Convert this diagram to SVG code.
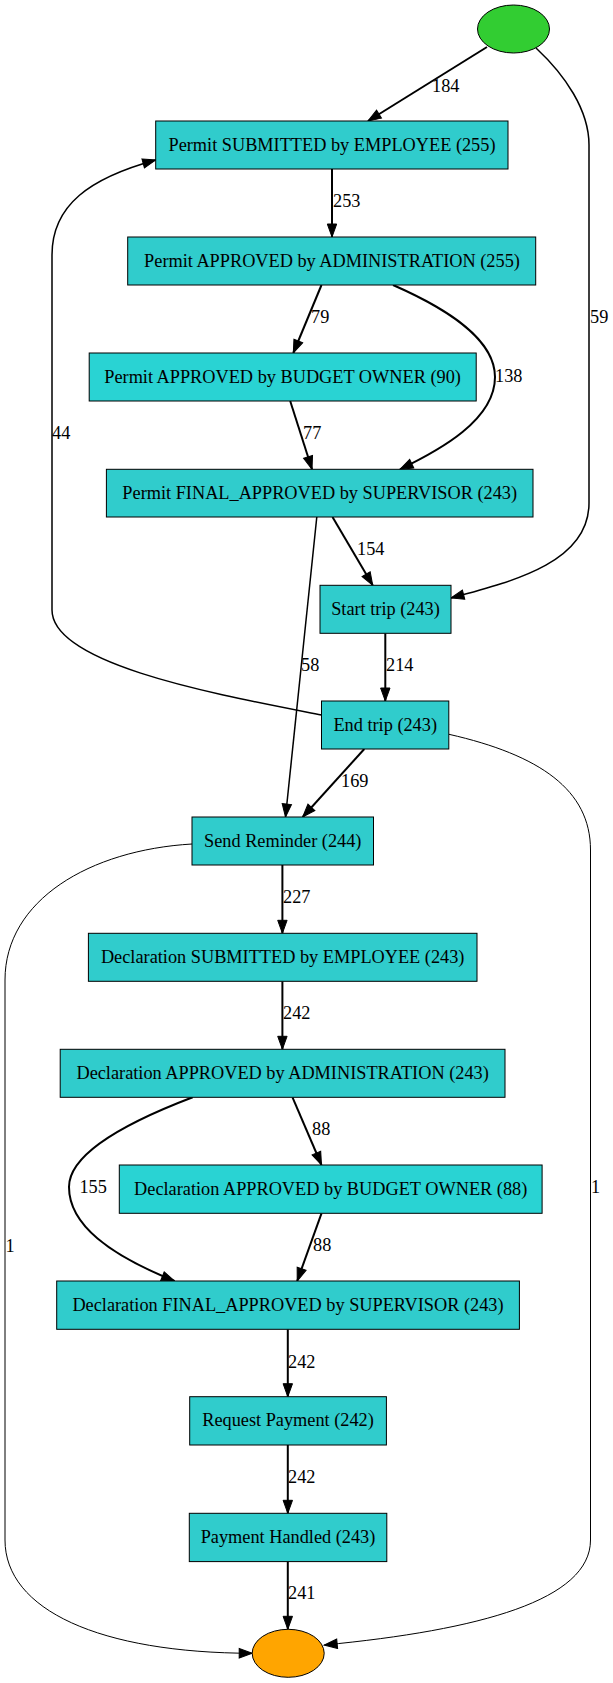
<svg xmlns="http://www.w3.org/2000/svg" width="613" height="1683" viewBox="0 0 613 1683">
<style>
.box{fill:#30CCCC;stroke:#000;stroke-width:1}
.box2{fill:#29D3D3;stroke:#000;stroke-width:1}
.t{font-family:"Liberation Serif","Times New Roman",serif;font-size:18.3px;fill:#000;text-anchor:middle}
.l{font-family:"Liberation Serif","Times New Roman",serif;font-size:18.3px;fill:#000;text-anchor:start}
.e{fill:none;stroke:#000;stroke-width:2;marker-end:url(#arr)}
.m{fill:none;stroke:#000;stroke-width:1.5;marker-end:url(#arr)}
.s{fill:none;stroke:#000;stroke-width:1;marker-end:url(#arr)}
</style>
<defs>
<marker id="arr" markerUnits="userSpaceOnUse" markerWidth="14" markerHeight="10" refX="13" refY="4.7" orient="auto" overflow="visible">
<path d="M0,0 L13,4.7 L0,9.4 z" fill="#000" stroke="#000" stroke-width="1"/>
</marker>
</defs>
<rect width="613" height="1683" fill="#fff"/>
<g id="edges">
<path class="e" d="M487,47 L368,121"/>
<path class="m" d="M536,48 C565,75 589,110 589,145 L589,503 C589,560 520,580 451,598"/>
<path class="e" d="M332,169 L332,237"/>
<path class="e" d="M321.5,285 L293.3,353"/>
<path class="e" d="M393,285 C450,310 495,340 495,377 C495,420 440,450 400,469.3"/>
<path class="e" d="M290.2,401 L312,469.3"/>
<path class="e" d="M332.5,517 L372.7,585.3"/>
<path class="m" d="M316.8,517 L285.5,817"/>
<path class="e" d="M385.3,633.3 L385.3,701"/>
<path class="m" d="M321.5,715 C220,695 52,665 52,610 L52,255 C52,205 90,178 155.7,160"/>
<path class="e" d="M364.3,749 L302.7,817"/>
<path class="s" d="M449,734.3 C540,755 590.5,790 590.5,850 L590.5,1540 C590.5,1600 480,1630 324.2,1645"/>
<path class="s" d="M192,844 C90,850 5,900 5,980 L5,1540 C5,1610 100,1653 252.2,1653.3"/>
<path class="e" d="M282.4,865 L282.4,933.3"/>
<path class="e" d="M282.4,981.3 L282.4,1049.3"/>
<path class="e" d="M292.5,1097.3 L321.5,1165"/>
<path class="e" d="M192.7,1097.3 C120,1125 69,1155 69,1187 C69,1225 110,1255 174.5,1281"/>
<path class="e" d="M321.5,1213.3 L297.2,1281"/>
<path class="e" d="M287.8,1329.3 L287.8,1396.7"/>
<path class="e" d="M287.8,1445 L287.8,1513.3"/>
<path class="e" d="M287.8,1561.7 L287.8,1629.3"/>
<text class="l" x="432" y="92">184</text>
<text class="l" x="590" y="323">59</text>
<text class="l" x="333" y="207">253</text>
<text class="l" x="311" y="323">79</text>
<text class="l" x="495" y="382">138</text>
<text class="l" x="303" y="439">77</text>
<text class="l" x="357" y="555">154</text>
<text class="l" x="301" y="671">58</text>
<text class="l" x="386" y="671">214</text>
<text class="l" x="52" y="439">44</text>
<text class="l" x="341" y="787">169</text>
<text class="l" x="591" y="1193">1</text>
<text class="l" x="5.5" y="1252">1</text>
<text class="l" x="283" y="903">227</text>
<text class="l" x="283" y="1019">242</text>
<text class="l" x="312" y="1135">88</text>
<text class="l" x="79.4" y="1193">155</text>
<text class="l" x="313" y="1251">88</text>
<text class="l" x="288" y="1368">242</text>
<text class="l" x="288" y="1483">242</text>
<text class="l" x="288" y="1599">241</text>
</g>
<g id="start"><ellipse cx="513.5" cy="29" rx="36" ry="24" fill="#32CD32" stroke="#000" stroke-width="1"/></g>
<g id="n1"><rect class="box" x="155.7" y="121" width="352.3" height="48"/><text class="t" x="332" y="150.5">Permit SUBMITTED by EMPLOYEE (255)</text></g>
<g id="n2"><rect class="box" x="127.7" y="237" width="408" height="48"/><text class="t" x="332" y="266.5">Permit APPROVED by ADMINISTRATION (255)</text></g>
<g id="n3"><rect class="box2" x="89.2" y="353" width="387" height="48"/><text class="t" x="282.6" y="382.5">Permit APPROVED by BUDGET OWNER (90)</text></g>
<g id="n4"><rect class="box" x="106.4" y="469.3" width="426.6" height="47.7"/><text class="t" x="319.7" y="498.5">Permit FINAL_APPROVED by SUPERVISOR (243)</text></g>
<g id="n5"><rect class="box" x="320" y="585.3" width="131" height="48"/><text class="t" x="385.5" y="614.5">Start trip (243)</text></g>
<g id="n6"><rect class="box" x="321.5" y="701" width="127.3" height="48"/><text class="t" x="385.2" y="730.5">End trip (243)</text></g>
<g id="n7"><rect class="box" x="192" y="817" width="181.5" height="48"/><text class="t" x="282.7" y="846.5">Send Reminder (244)</text></g>
<g id="n8"><rect class="box" x="88.4" y="933.3" width="388.6" height="48"/><text class="t" x="282.7" y="962.5">Declaration SUBMITTED by EMPLOYEE (243)</text></g>
<g id="n9"><rect class="box" x="60.2" y="1049.3" width="444.8" height="48"/><text class="t" x="282.6" y="1078.5">Declaration APPROVED by ADMINISTRATION (243)</text></g>
<g id="n10"><rect class="box2" x="119.3" y="1165" width="422.8" height="48.3"/><text class="t" x="330.7" y="1194.5">Declaration APPROVED by BUDGET OWNER (88)</text></g>
<g id="n11"><rect class="box" x="56.7" y="1281" width="462.7" height="48.3"/><text class="t" x="288" y="1310.5">Declaration FINAL_APPROVED by SUPERVISOR (243)</text></g>
<g id="n12"><rect class="box" x="189.7" y="1396.7" width="196.7" height="48.3"/><text class="t" x="288" y="1426">Request Payment (242)</text></g>
<g id="n13"><rect class="box" x="189.3" y="1513.3" width="197.5" height="48.3"/><text class="t" x="288" y="1542.5">Payment Handled (243)</text></g>
<g id="end"><ellipse cx="288.2" cy="1653.3" rx="36" ry="24" fill="#FFA500" stroke="#000" stroke-width="1"/></g>
</svg>
